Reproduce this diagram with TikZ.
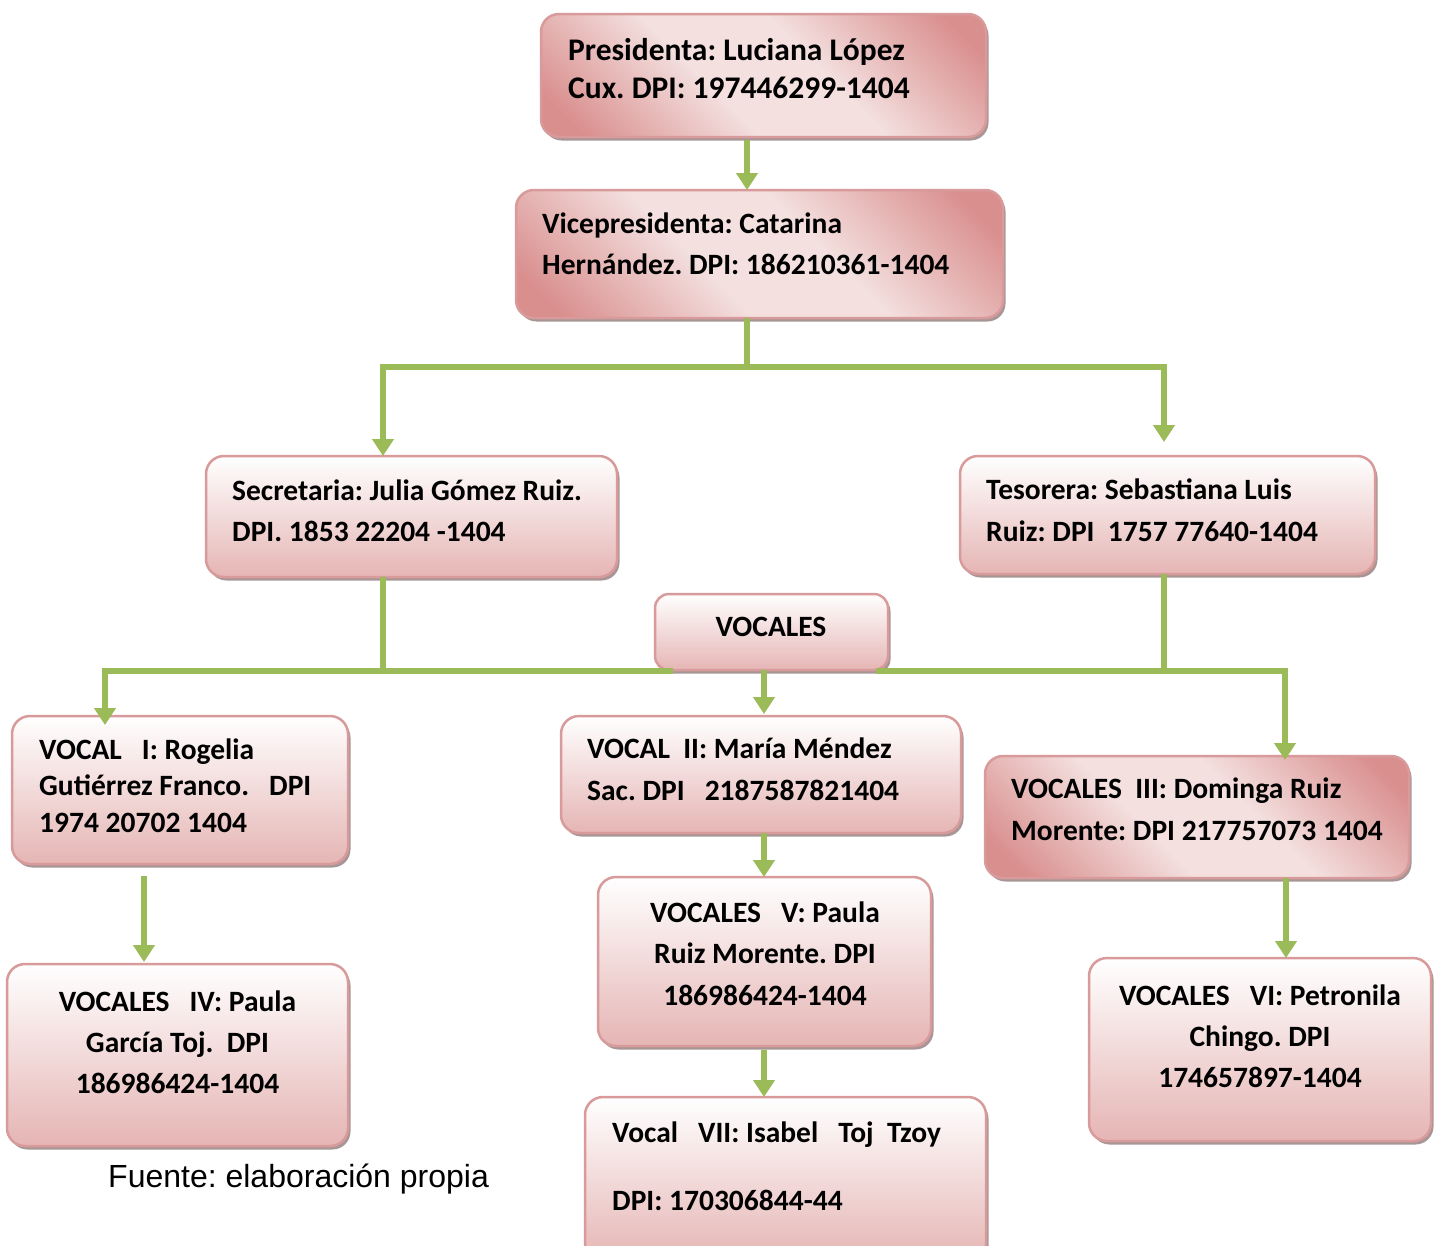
\documentclass[tikz,border=0pt]{standalone}
\usepackage{fontspec}
\setmainfont{Carlito}
\newfontfamily\arialf{Liberation Sans}
\usetikzlibrary{shadows,arrows.meta,calc}
\definecolor{grn}{HTML}{9BBB59}
\definecolor{bordc}{HTML}{D89A9A}
\definecolor{pinkb}{HTML}{E5B5B4}
\definecolor{pinkd}{HTML}{D98F8E}
\definecolor{pinkl}{HTML}{F3E0DF}
\definecolor{shadc}{HTML}{9E8A8A}
\pgfdeclarehorizontalshading{diagsh}{100bp}{color(0bp)=(pinkd); color(20bp)=(pinkd); color(42bp)=(pinkl); color(58bp)=(pinkl); color(80bp)=(pinkd); color(100bp)=(pinkd)}
\newcommand\orgfs[2]{\fontsize{#1pt}{#2pt}\selectfont\bfseries}
\frenchspacing
\begin{document}
\frenchspacing
\begin{tikzpicture}[x=1pt,y=-1pt,
  box/.style={draw=bordc, line width=2.5pt, rounded corners=18pt, inner sep=0pt, outer sep=0pt,
    drop shadow={shadow xshift=2.5pt, shadow yshift=-3.5pt, fill=shadc, opacity=0.9}},
  vbox/.style={box, top color=white, bottom color=pinkb},
  dbox/.style={box, shading=diagsh, shading angle=45},
  txt/.style={inner sep=0pt, align=left, font=\orgfs{29.5}{#1}},
  txt/.default=41,
  ctxt/.style={inner sep=0pt, align=center, font=\orgfs{29.5}{#1}},
  ctxt/.default=41,
  ln/.style={draw=grn, line width=6pt},
  arr/.style={ln, -{Triangle[width=21pt,length=17pt]}}
]
\useasboundingbox (0,0) rectangle (1437,1245);

% boxes
\node[dbox, minimum width=445pt, minimum height=123pt] (pres) at (763.5,75.5) {};
\node[dbox, minimum width=487pt, minimum height=128pt] (vice) at (759.5,254) {};
\node[vbox, minimum width=411pt, minimum height=121pt] (sec) at (411.5,516.5) {};
\node[vbox, minimum width=415pt, minimum height=118pt] (tes) at (1167.5,515) {};
\node[vbox, minimum width=233pt, minimum height=76pt, rounded corners=14pt] (voc) at (771.5,632) {};
\node[vbox, minimum width=336pt, minimum height=148pt] (v1) at (180,790) {};
\node[vbox, minimum width=400pt, minimum height=117pt] (v2) at (761,774.5) {};
\node[dbox, minimum width=424pt, minimum height=122pt] (v3) at (1197,817) {};
\node[vbox, minimum width=341pt, minimum height=182pt] (v4) at (177.5,1055) {};
\node[vbox, minimum width=333pt, minimum height=169pt] (v5) at (764.5,961.5) {};
\node[vbox, minimum width=342pt, minimum height=183pt] (v6) at (1260,1049.5) {};
\node[vbox, minimum width=401pt, minimum height=165pt] (v7) at (785.5,1179.5) {};

% texts (base anchor = baseline of last line)
\node[txt, font=\orgfs{31.5}{38.5}, anchor=base west] (t1) at (568,98.5) {Presidenta: Luciana López\\Cux. DPI: 197446299-1404};
\node[txt=41.5, anchor=base west] (t2) at (542,274.5) {Vicepresidenta: Catarina\\Hernández. DPI: 186210361-1404};
\node[txt=41, anchor=base west] (t3) at (232,541) {Secretaria: Julia Gómez Ruiz.\\DPI. 1853 22204 -1404};
\node[txt=42, anchor=base west] (t4) at (986,541) {Tesorera: Sebastiana Luis\\Ruiz: DPI\ \ 1757 77640-1404};
\node[ctxt, anchor=base] (t5) at (771,636) {VOCALES};
\node[txt=36.5, anchor=base west] (t6) at (39,832) {VOCAL\ \ \ I: Rogelia\\Gutiérrez Franco.\ \ \ DPI\\1974 20702 1404};
\node[txt=42, anchor=base west] (t7) at (587,800) {VOCAL\ \ II: María Méndez\\Sac. DPI\ \ \ 2187587821404};
\node[txt=42, anchor=base west] (t8) at (1011,840) {VOCALES\ \ III: Dominga Ruiz\\Morente: DPI 217757073 1404};
\node[ctxt=41, anchor=base] (t9) at (177.5,1093) {VOCALES\ \ \ IV: Paula\\García Toj.\ \ DPI\\186986424-1404};
\node[ctxt=41.5, anchor=base] (t10) at (765,1005) {VOCALES\ \ \ V: Paula\\Ruiz Morente. DPI\\186986424-1404};
\node[ctxt=41, anchor=base] (t11) at (1260,1087) {VOCALES\ \ \ VI: Petronila\\Chingo. DPI\\174657897-1404};
\node[txt=68, anchor=base west] (t12) at (612,1210) {Vocal\ \ \ VII: Isabel\ \ \ Toj\ \ Tzoy\\DPI: 170306844-44};
\node[inner sep=0pt, anchor=base west, font=\arialf\fontsize{32pt}{38pt}\selectfont] (fte) at (108,1187) {Fuente: elaboración propia};

% connector coordinates
\coordinate (a1) at (747,0);
\coordinate (h1) at (747,367);
\coordinate (hs) at (383,367);
\coordinate (ht) at (1164,367);
\coordinate (h2) at (383,671);
\coordinate (h3) at (1164,671);
\coordinate (hl) at (673,671);
\coordinate (hr) at (876,671);
\coordinate (c105) at (105,0);
\coordinate (c1285) at (1285,0);
\coordinate (c764) at (764,0);
\coordinate (c144) at (144,0);
\coordinate (c1286) at (1286,0);

% connectors
\draw[arr] ($(pres.south -| a1)+(0,3)$) -- (vice.north -| a1);
\draw[ln] (vice.south -| h1) -- (h1);
\draw[arr] (h1) -| (sec.north -| hs);
\draw[arr] (h1) -| ($(tes.north -| ht)+(0,-14)$);
\draw[ln] (sec.south -| h2) -- (h2);
\draw[ln] (tes.south -| h3) -- (h3);
\draw[arr] (hl) -| ($(v1.north -| c105)+(0,9)$);
\draw[arr] (hr) -| ($(v3.north -| c1285)+(0,4)$);
\draw[arr] (voc.south -| c764) -- ($(v2.north -| c764)+(0,-2)$);
\draw[arr] (v2.south -| c764) -- (v5.north -| c764);
\draw[arr] ($(v5.south -| c764)+(0,4)$) -- (v7.north -| c764);
\draw[arr] ($(v1.south -| c144)+(0,12)$) -- ($(v4.north -| c144)+(0,-2)$);
\draw[arr] (v3.south -| c1286) -- (v6.north -| c1286);
\end{tikzpicture}
\end{document}
